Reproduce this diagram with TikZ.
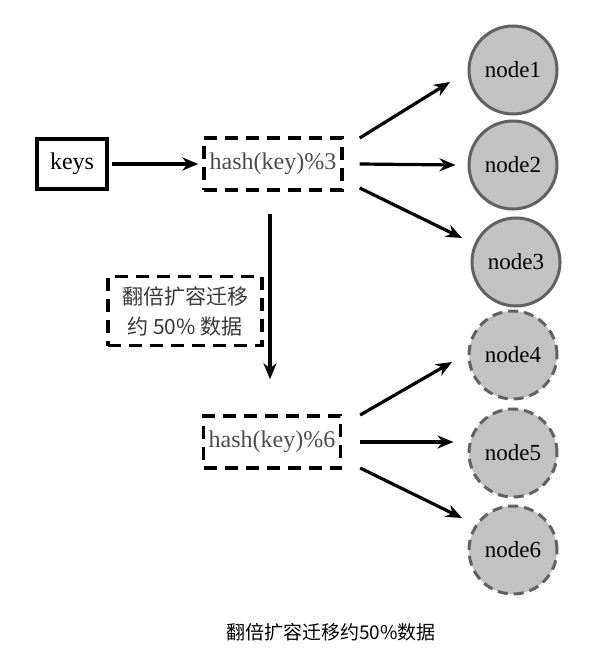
\documentclass[tikz,border=0pt]{standalone}
\usepackage{fontspec}
\setmainfont{Liberation Serif}
\newfontfamily\cjk{Noto Sans CJK SC}
\usetikzlibrary{arrows.meta,calc}
\begin{document}
\begin{tikzpicture}[x=1pt,y=-1pt,
  arr/.style={-{Stealth[length=16pt,width=13pt]}, line width=3.2pt},
  sbox/.style={draw, line width=3.2pt, minimum width=70, minimum height=50, inner sep=4pt, font=\fontsize{24}{26}\selectfont},
  dbox/.style={draw, dash pattern=on 13pt off 8pt, line width=3.4pt, minimum height=52, inner sep=5pt, text=black!70, font=\fontsize{24}{26}\selectfont},
  srv/.style={circle, draw=black!62, fill=black!24, line width=3pt, minimum size=88, inner sep=0pt, font=\fontsize{23}{26}\selectfont},
  srvd/.style={srv, dash pattern=on 10pt off 6pt},
]
\useasboundingbox (0,0) rectangle (600,668);
\node[sbox] (keys) at (72,164) {keys};
\node[dbox, minimum width=138] (h3) at (273,164) {hash(key)\%3};
\node[dbox, minimum width=137] (h6) at (272,442) {hash(key)\%6};
\node[dbox, minimum width=154, minimum height=69, align=center, font=\cjk\fontsize{21}{30}\selectfont, text=black!78] (mig) at (185,311) {翻倍扩容迁移\\约 50\% 数据};
\node[srv] (n1) at (513,70) {node1};
\node[srv] (n2) at (513,165) {node2};
\node[srv] (n3) at (516,262) {node3};
\node[srvd] (n4) at (513,355) {node4};
\node[srvd] (n5) at (513,453) {node5};
\node[srvd] (n6) at (513,550) {node6};
\node[font=\cjk\fontsize{19}{21}\selectfont] (cap) at (331,632) {翻倍扩容迁移约50\%数据};

\draw[arr] (keys.east) ++(3,0) -- ($(h3.west)+(-4,0)$);
\draw[arr] ($(h3.east)+(16,-26)$) -- ($(n1)+(-63,12)$);
\draw[arr] ($(h3.east)+(16,0)$) -- ($(n2.west)+(-12,0)$);
\draw[arr] ($(h3.east)+(16,24)$) -- ($(n3)+(-54,-24)$);
\draw[arr] ($(h3.south)+(-3,22)$) -- ($(h6.north)+(-2,-35)$);
\draw[arr] ($(h6.east)+(18,-27)$) -- ($(n4)+(-61,7)$);
\draw[arr] ($(h6.east)+(18,0)$) -- ($(n5.west)+(-14,-11)$);
\draw[arr] ($(h6.east)+(18,26)$) -- ($(n6)+(-51,-32)$);
\end{tikzpicture}
\end{document}
